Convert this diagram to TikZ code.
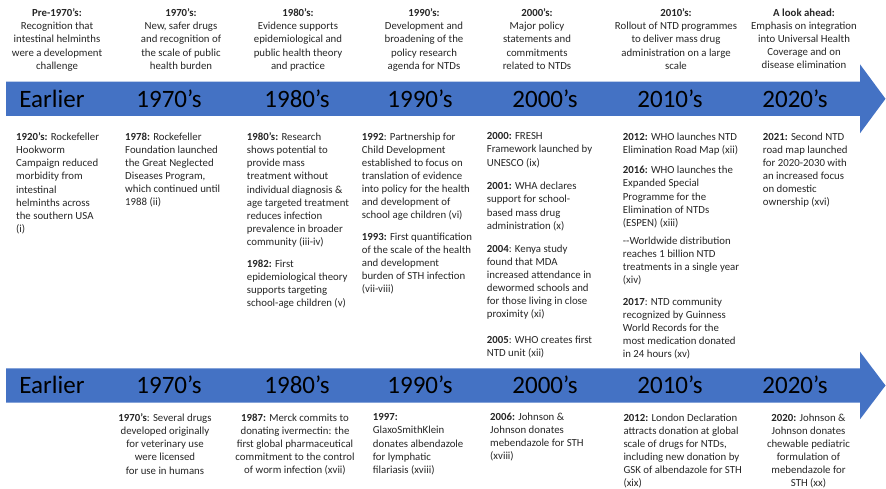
\documentclass[tikz,border=0pt]{standalone}
\usepackage{fontspec}
\setmainfont{Carlito}
\usepackage{tikz}
\usetikzlibrary{positioning}
\definecolor{bandblue}{HTML}{4472C4}
\definecolor{ink}{HTML}{262626}

\begin{document}
\begin{tikzpicture}[
  x=1pt, y=-1pt,
  every node/.style={inner sep=0pt, text=ink},
  period/.style={font=\fontsize{10.8}{13.1}\selectfont, align=center,
    anchor=north, execute at begin node=\strut},
  event/.style={font=\fontsize{10.8}{13.1}\selectfont, align=left,
    anchor=north west, execute at begin node=\strut},
  eventc/.style={event, align=center, anchor=north},
  decade/.style={font=\fontsize{25}{30}\selectfont, anchor=base, text=black}
]
  \useasboundingbox (0,0) rectangle (886,489);

  % the two timeline arrows
  \fill[bandblue] (6,81.7) -- (860,81.7) -- (860,64.3) -- (885.5,98.8)
    -- (860,133.3) -- (860,116) -- (6,116) -- cycle;
  \fill[bandblue] (6,368.3) -- (860,368.3) -- (860,351.7) -- (885.5,385.5)
    -- (860,419.3) -- (860,402.7) -- (6,402.7) -- cycle;

  % decade labels on the arrows
  \node[decade] (tEarly) at (52,108) {Earlier};
  \node[decade] (t70) at (169,108) {1970’s};
  \node[decade] (t80) at (297,108) {1980’s};
  \node[decade] (t90) at (420,108) {1990’s};
  \node[decade] (t00) at (545,108) {2000’s};
  \node[decade] (t10) at (670,108) {2010’s};
  \node[decade] (t20) at (795,108) {2020’s};

  \node[decade] (bEarly) at (52,393.3) {Earlier};
  \node[decade] (b70) at (169,393.3) {1970’s};
  \node[decade] (b80) at (297,393.3) {1980’s};
  \node[decade] (b90) at (420,393.3) {1990’s};
  \node[decade] (b00) at (545,393.3) {2000’s};
  \node[decade] (b10) at (670,393.3) {2010’s};
  \node[decade] (b20) at (795,393.3) {2020’s};

  % period headings
  \node[period] (hdPre) at (57,8.7) {\textbf{Pre-1970’s:}\\Recognition that\\intestinal helminths\\were a development\\challenge};
  \node[period] (hd70) at (181,8.7) {\textbf{1970’s:}\\New, safer drugs\\and recognition of\\the scale of public\\health burden};
  \node[period] (hd80) at (298,8.7) {\textbf{1980’s:}\\Evidence supports\\epidemiological and\\public health theory\\and practice};
  \node[period] (hd90) at (424,8.7) {\textbf{1990’s:}\\Development and\\broadening of the\\policy research\\agenda for NTDs};
  \node[period] (hd00) at (537,8.7) {\textbf{2000’s:}\\Major policy\\statements and\\commitments\\related to NTDs};
  \node[period] (hd10) at (676,8.7) {\textbf{2010’s:}\\Rollout of NTD programmes\\to deliver mass drug\\administration on a large\\scale};
  \node[period] (hdNext) at (804,8.7) {\textbf{A look ahead:}\\Emphasis on integration\\into Universal Health\\Coverage and on\\disease elimination};

  % public health milestones
  \node[event] (ev1920) at (16,132.6) {\textbf{1920’s:} Rockefeller\\Hookworm\\Campaign reduced\\morbidity from\\intestinal\\helminths across\\the southern USA\\(i)};
  \node[event] (ev1978) at (125,132.6) {\textbf{1978:} Rockefeller\\Foundation launched\\the Great Neglected\\Diseases Program,\\which continued until\\1988 (ii)};
  \node[event] (ev1980) at (246.7,132.6) {\textbf{1980’s:} Research\\shows potential to\\provide mass\\treatment without\\individual diagnosis \&\\age targeted treatment\\reduces infection\\prevalence in broader\\community (iii-iv)};
  \node[event] (ev1982) at (246.7,259.6) {\textbf{1982:} First\\epidemiological theory\\supports targeting\\school-age children (v)};
  \node[event] (ev1992) at (361.7,132.6) {\textbf{1992}: Partnership for\\Child Development\\established to focus on\\translation of evidence\\into policy for the health\\and development of\\school age children (vi)};
  \node[event] (ev1993) at (361.7,232.6) {\textbf{1993:} First quantification\\of the scale of the health\\and development\\burden of STH infection\\(vii-viii)};
  \node[event] (ev2000) at (486.7,132.6) {\textbf{2000:} FRESH\\Framework launched by\\UNESCO (ix)};
  \node[event] (ev2001) at (486.7,182.2) {\textbf{2001:} WHA declares\\support for school-\\based mass drug\\administration (x)};
  \node[event] (ev2004) at (486.7,244.6) {\textbf{2004}: Kenya study\\found that MDA\\increased attendance in\\dewormed schools and\\for those living in close\\proximity (xi)};
  \node[event] (ev2005) at (486.7,335.9) {\textbf{2005}: WHO creates first\\NTD unit (xii)};
  \node[event] (ev2012) at (622.7,132.6) {\textbf{2012:} WHO launches NTD\\Elimination Road Map (xii)};
  \node[event] (ev2016) at (622.7,166.2) {\textbf{2016:} WHO launches the\\Expanded Special\\Programme for the\\Elimination of NTDs\\(ESPEN) (xiii)};
  \node[event] (evBillion) at (622.7,236.9) {-{}-Worldwide distribution\\reaches 1 billion NTD\\treatments in a single year\\(xiv)};
  \node[event] (ev2017) at (622.7,297.6) {\textbf{2017}: NTD community\\recognized by Guinness\\World Records for the\\most medication donated\\in 24 hours (xv)};
  \node[event] (ev2021) at (762.7,132.6) {\textbf{2021:} Second NTD\\road map launched\\for 2020-2030 with\\an increased focus\\on domestic\\ownership (xvi)};

  % drug donation milestones
  \node[eventc] (dr1970) at (165,413.6) {\textbf{1970’s}: Several drugs\\developed originally\\for veterinary use\\were licensed\\for use in humans};
  \node[eventc] (dr1987) at (295,413.6) {\textbf{1987:} Merck commits to\\donating ivermectin: the\\first global pharmaceutical\\commitment to the control\\of worm infection (xvii)};
  \node[event] (dr1997) at (372.7,413.6) {\textbf{1997:}\\GlaxoSmithKlein\\donates albendazole\\for lymphatic\\filariasis (xviii)};
  \node[event] (dr2006) at (490,412.6) {\textbf{2006:} Johnson \&\\Johnson donates\\mebendazole for STH\\(xviii)};
  \node[event] (dr2012) at (623.3,413.6) {\textbf{2012:} London Declaration\\attracts donation at global\\scale of drugs for NTDs,\\including new donation by\\GSK of albendazole for STH\\(xix)};
  \node[eventc] (dr2020) at (808.5,413.6) {\textbf{2020:} Johnson \&\\Johnson donates\\chewable pediatric\\formulation of\\mebendazole for\\STH (xx)};
\end{tikzpicture}
\end{document}
